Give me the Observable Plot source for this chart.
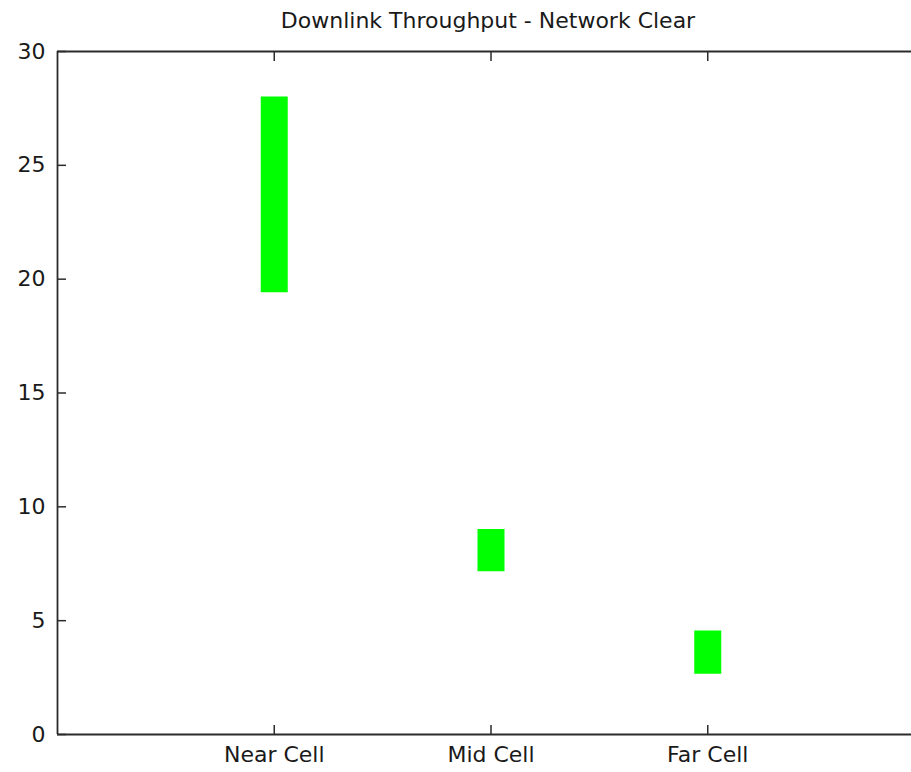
<!DOCTYPE html>
<html>
<head>
<meta charset="utf-8">
<script src="https://cdn.jsdelivr.net/npm/d3@7"></script>
<script src="https://cdn.jsdelivr.net/npm/@observablehq/plot@0.6"></script>
<style>
  html, body { margin: 0; padding: 0; background: #ffffff; overflow: hidden; }
</style>
</head>
<body>
<div id="chart"></div>
<script>
const title = "Downlink Throughput - Network Clear";
const categories = ["Near Cell", "Mid Cell", "Far Cell"];
const lowValues = [19.4, 7.15, 2.65];
const highValues = [28.0, 9.0, 4.55];
const yTicks = [0, 5, 10, 15, 20, 25, 30];
const xTicks = [1, 2, 3];
const xDomain = [0, 4];
const yDomain = [0, 30];

const data = categories.map((c, i) => ({pos: i + 1, name: c, low: lowValues[i], high: highValues[i]}));

const axisColor = "#2b2b2b";
const font = "'DejaVu Sans', sans-serif";

const chart = Plot.plot({
  width: 911,
  height: 772,
  marginLeft: 57,
  marginTop: 51,
  marginBottom: 38,
  marginRight: 0,
  style: {fontFamily: font, fontSize: "22px", color: "#1a1a1a", background: "#ffffff", overflow: "hidden"},
  x: {domain: xDomain, range: [57, 924]},
  y: {domain: yDomain},
  marks: [
    Plot.ruleX(data, {x: "pos", y1: "low", y2: "high", stroke: "#00ff00", strokeWidth: 27}),
    Plot.ruleY(yDomain, {stroke: axisColor, strokeWidth: 1.8}),
    Plot.ruleX([xDomain[0]], {stroke: axisColor, strokeWidth: 1.8}),
    Plot.axisY({ticks: yTicks, tickSize: -9, tickPadding: 21, stroke: axisColor, strokeWidth: 1.5, label: null, fontSize: 22}),
    Plot.axisX({ticks: xTicks, anchor: "bottom", tickSize: -9, tickPadding: 21, stroke: axisColor, strokeWidth: 1.5, label: null,
      tickFormat: d => categories[d - 1], fontSize: 22}),
    Plot.axisX({ticks: xTicks, anchor: "top", tickSize: -9, stroke: axisColor, strokeWidth: 1.5, label: null, tickFormat: () => ""}),
    Plot.text([title], {x: 2, y: 30, text: d => d, dy: -31, dx: -3, fontSize: 22, fill: "#1a1a1a"})
  ]
});
document.getElementById("chart").appendChild(chart);
</script>
</body>
</html>
